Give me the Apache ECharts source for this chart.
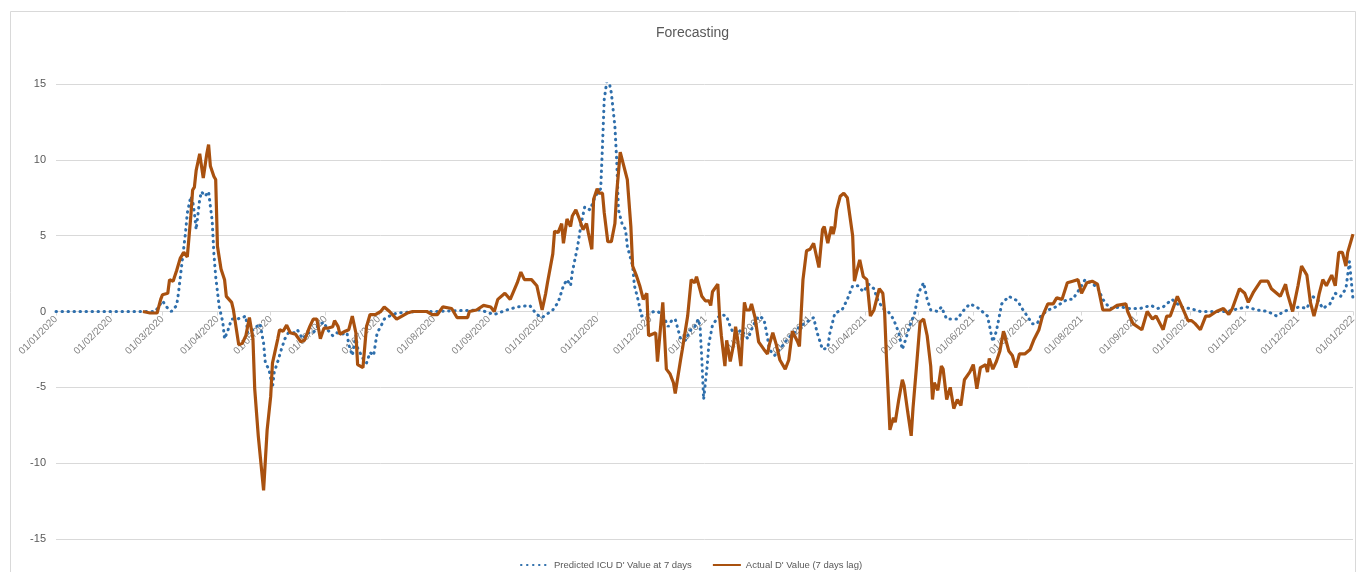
<!DOCTYPE html>
<html>
<head>
<meta charset="utf-8">
<title>Forecasting</title>
<script src="https://cdn.jsdelivr.net/npm/echarts@6/dist/echarts.min.js"></script>
<style>
  html, body { margin: 0; padding: 0; background: #fff; }
  #chart { width: 1364px; height: 572px; }
</style>
</head>
<body>
<div id="chart"></div>
<script>
// values
const predDates = [
  "2020-01-01", "2020-02-21", "2020-02-26", "2020-03-01", "2020-03-04", "2020-03-06", "2020-03-09", "2020-03-10",
  "2020-03-12", "2020-03-14", "2020-03-15", "2020-03-17", "2020-03-18", "2020-03-19", "2020-03-20", "2020-03-22",
  "2020-03-23", "2020-03-25", "2020-03-27", "2020-03-28", "2020-03-29", "2020-03-30", "2020-03-31", "2020-04-02",
  "2020-04-04", "2020-04-05", "2020-04-07", "2020-04-09", "2020-04-12", "2020-04-15", "2020-04-17", "2020-04-18",
  "2020-04-21", "2020-04-23", "2020-04-25", "2020-04-27", "2020-04-28", "2020-04-30", "2020-05-02", "2020-05-03",
  "2020-05-05", "2020-05-07", "2020-05-09", "2020-05-11", "2020-05-14", "2020-05-16", "2020-05-19", "2020-05-22",
  "2020-05-25", "2020-05-28", "2020-05-31", "2020-06-02", "2020-06-05", "2020-06-07", "2020-06-10", "2020-06-13",
  "2020-06-14", "2020-06-16", "2020-06-18", "2020-06-19", "2020-06-22", "2020-06-24", "2020-06-26", "2020-06-28",
  "2020-06-30", "2020-07-02", "2020-07-04", "2020-07-07", "2020-07-11", "2020-07-23", "2020-08-01", "2020-08-27",
  "2020-09-04", "2020-09-11", "2020-09-17", "2020-09-24", "2020-09-28", "2020-10-01", "2020-10-07", "2020-10-10",
  "2020-10-13", "2020-10-15", "2020-10-17", "2020-10-18", "2020-10-21", "2020-10-23", "2020-10-25", "2020-10-28",
  "2020-10-31", "2020-11-03", "2020-11-04", "2020-11-05", "2020-11-07", "2020-11-09", "2020-11-11", "2020-11-12",
  "2020-11-13", "2020-11-15", "2020-11-17", "2020-11-18", "2020-11-21", "2020-11-22", "2020-11-24", "2020-11-26",
  "2020-11-29", "2020-12-03", "2020-12-05", "2020-12-08", "2020-12-11", "2020-12-13", "2020-12-15", "2020-12-18",
  "2020-12-21", "2020-12-23", "2020-12-26", "2020-12-28", "2020-12-29", "2020-12-30", "2020-12-31", "2021-01-02",
  "2021-01-03", "2021-01-05", "2021-01-08", "2021-01-10", "2021-01-13", "2021-01-14", "2021-01-17", "2021-01-19",
  "2021-01-21", "2021-01-22", "2021-01-25", "2021-01-28", "2021-01-31", "2021-02-03", "2021-02-05", "2021-02-06",
  "2021-02-09", "2021-02-12", "2021-02-15", "2021-02-18", "2021-02-21", "2021-02-23", "2021-02-27", "2021-03-03",
  "2021-03-05", "2021-03-08", "2021-03-11", "2021-03-12", "2021-03-15", "2021-03-19", "2021-03-22", "2021-03-25",
  "2021-03-28", "2021-03-31", "2021-04-03", "2021-04-06", "2021-04-08", "2021-04-11", "2021-04-14", "2021-04-17",
  "2021-04-20", "2021-04-22", "2021-04-24", "2021-04-26", "2021-04-29", "2021-05-01", "2021-05-04", "2021-05-06",
  "2021-05-08", "2021-05-12", "2021-05-14", "2021-05-17", "2021-05-21", "2021-05-23", "2021-05-26", "2021-05-30",
  "2021-06-03", "2021-06-06", "2021-06-09", "2021-06-12", "2021-06-14", "2021-06-17", "2021-06-21", "2021-06-26",
  "2021-06-29", "2021-07-02", "2021-07-04", "2021-07-07", "2021-07-09", "2021-07-13", "2021-07-16", "2021-07-24",
  "2021-07-27", "2021-07-31", "2021-08-03", "2021-08-06", "2021-08-10", "2021-08-13", "2021-08-17", "2021-08-23",
  "2021-08-28", "2021-09-03", "2021-09-09", "2021-09-13", "2021-09-16", "2021-09-21", "2021-09-26", "2021-10-01",
  "2021-10-07", "2021-10-14", "2021-10-22", "2021-10-29", "2021-11-02", "2021-11-08", "2021-11-14", "2021-11-19",
  "2021-11-23", "2021-11-28", "2021-12-02", "2021-12-06", "2021-12-09", "2021-12-12", "2021-12-15", "2021-12-19",
  "2021-12-22", "2021-12-25", "2021-12-28", "2021-12-30", "2022-01-01"
];
const predValues = [
  0, 0, 0, 0.7, 0.2, 0, 0.4, 1.2,
  3.2, 5.2, 6.5, 7.6, 7.3, 6.5, 5.4, 7.4,
  7.9, 7.6, 7.9, 7.8, 6.0, 3.8, 2.3, 0.3,
  -0.7, -1.8, -1.2, -0.5, -0.5, -0.4, -0.3, -1.4,
  -1.2, -1.0, -0.8, -2.1, -3.4, -3.8, -5.0, -4.0,
  -3.3, -2.5, -1.8, -1.4, -1.4, -1.2, -1.8, -1.4,
  -1.4, -0.9, -0.7, -1.2, -1.6, -1.4, -1.5, -1.4,
  -2.2, -2.9, -1.6, -2.4, -3.1, -3.4, -2.7, -2.9,
  -1.4, -1.0, -0.5, -0.3, -0.1, 0, 0, 0.1,
  -0.2, 0.1, 0.3, 0.4, -0.2, -0.4, 0.1, 0.6,
  1.7, 2.1, 1.7, 2.6, 4.3, 5.8, 6.9, 6.7,
  7.6, 8.1, 10.9, 14.0, 15.6, 14.4, 12.2, 10.0,
  6.7, 5.8, 5.4, 4.3, 3.0, 1.7, 0.8, -0.3,
  -0.2, 0, 0, -0.2, -1.0, -0.6, -0.5, -1.8,
  -1.9, -1.3, -1.0, -0.5, -1.0, -3.2, -5.8, -3.6,
  -2.1, -0.9, -0.4, -0.2, -0.3, -0.7, -1.5, -1.5,
  -1.2, -1.3, -1.8, -0.9, -0.3, -0.5, -1.7, -2.5,
  -2.9, -2.5, -2.0, -1.6, -1.3, -1.0, -0.7, -0.4,
  -1.4, -2.5, -2.4, -1.5, -0.1, 0.1, 0.8, 1.7,
  1.7, 1.3, 1.8, 1.5, 0.8, 0.2, 0, -0.5,
  -1.4, -2.5, -1.8, -1.0, -0.1, 1.2, 1.9, 0.8,
  0.1, 0, 0.3, -0.5, -0.5, -0.5, 0, 0.5,
  0.3, 0, -0.3, -2.0, -1.3, 0.5, 1.0, 0.7,
  0.1, -0.4, -0.8, -0.8, -0.3, 0.1, 0.2, 0.8,
  0.8, 1.5, 2.1, 1.9, 1.6, 0.8, 0.2, 0.3,
  0.2, 0.2, 0.4, 0.2, 0.3, 0.8, 0.3, 0.2,
  0, 0, 0, 0.2, 0.3, 0.1, 0, -0.3,
  0, 0.2, 0.3, 0.2, 1.0, 0.8, 0.2, 0.5,
  1.2, 1.0, 1.5, 3.3, 0.8
];

const actualDates = [
  "2020-02-19", "2020-02-23", "2020-02-27", "2020-02-29", "2020-03-01", "2020-03-04", "2020-03-05", "2020-03-07",
  "2020-03-09", "2020-03-11", "2020-03-13", "2020-03-15", "2020-03-17", "2020-03-18", "2020-03-19", "2020-03-20",
  "2020-03-22", "2020-03-23", "2020-03-24", "2020-03-26", "2020-03-27", "2020-03-28", "2020-03-30", "2020-03-31",
  "2020-04-01", "2020-04-03", "2020-04-05", "2020-04-06", "2020-04-09", "2020-04-10", "2020-04-13", "2020-04-15",
  "2020-04-17", "2020-04-19", "2020-04-21", "2020-04-22", "2020-04-24", "2020-04-27", "2020-04-29", "2020-05-01",
  "2020-05-02", "2020-05-05", "2020-05-06", "2020-05-08", "2020-05-10", "2020-05-12", "2020-05-15", "2020-05-18",
  "2020-05-20", "2020-05-23", "2020-05-25", "2020-05-27", "2020-05-29", "2020-05-31", "2020-06-02", "2020-06-05",
  "2020-06-06", "2020-06-08", "2020-06-09", "2020-06-12", "2020-06-14", "2020-06-16", "2020-06-18", "2020-06-19",
  "2020-06-22", "2020-06-24", "2020-06-26", "2020-06-29", "2020-07-02", "2020-07-04", "2020-07-07", "2020-07-11",
  "2020-07-17", "2020-07-20", "2020-07-28", "2020-07-31", "2020-08-03", "2020-08-06", "2020-08-11", "2020-08-14",
  "2020-08-20", "2020-08-21", "2020-08-25", "2020-08-29", "2020-09-02", "2020-09-04", "2020-09-06", "2020-09-10",
  "2020-09-13", "2020-09-17", "2020-09-19", "2020-09-21", "2020-09-25", "2020-09-28", "2020-10-01", "2020-10-03",
  "2020-10-04", "2020-10-07", "2020-10-08", "2020-10-10", "2020-10-12", "2020-10-13", "2020-10-15", "2020-10-17",
  "2020-10-18", "2020-10-20", "2020-10-22", "2020-10-24", "2020-10-26", "2020-10-27", "2020-10-29", "2020-10-30",
  "2020-11-01", "2020-11-02", "2020-11-04", "2020-11-05", "2020-11-07", "2020-11-09", "2020-11-11", "2020-11-12",
  "2020-11-14", "2020-11-16", "2020-11-18", "2020-11-20", "2020-11-21", "2020-11-23", "2020-11-25", "2020-11-27",
  "2020-11-29", "2020-11-30", "2020-12-02", "2020-12-04", "2020-12-05", "2020-12-08", "2020-12-10", "2020-12-12",
  "2020-12-14", "2020-12-15", "2020-12-18", "2020-12-19", "2020-12-22", "2020-12-24", "2020-12-26", "2020-12-27",
  "2020-12-30", "2021-01-01", "2021-01-03", "2021-01-04", "2021-01-05", "2021-01-08", "2021-01-09", "2021-01-10",
  "2021-01-12", "2021-01-13", "2021-01-15", "2021-01-17", "2021-01-18", "2021-01-19", "2021-01-21", "2021-01-23",
  "2021-01-24", "2021-01-26", "2021-01-27", "2021-01-29", "2021-01-31", "2021-02-03", "2021-02-05", "2021-02-06",
  "2021-02-08", "2021-02-10", "2021-02-12", "2021-02-15", "2021-02-17", "2021-02-19", "2021-02-22", "2021-02-23",
  "2021-02-25", "2021-02-27", "2021-03-01", "2021-03-03", "2021-03-04", "2021-03-06", "2021-03-08", "2021-03-09",
  "2021-03-11", "2021-03-13", "2021-03-14", "2021-03-15", "2021-03-16", "2021-03-18", "2021-03-20", "2021-03-22",
  "2021-03-25", "2021-03-26", "2021-03-27", "2021-03-29", "2021-03-31", "2021-04-02", "2021-04-03", "2021-04-04",
  "2021-04-06", "2021-04-07", "2021-04-09", "2021-04-11", "2021-04-12", "2021-04-13", "2021-04-15", "2021-04-17",
  "2021-04-18", "2021-04-20", "2021-04-22", "2021-04-23", "2021-04-25", "2021-04-27", "2021-04-28", "2021-04-30",
  "2021-05-02", "2021-05-04", "2021-05-06", "2021-05-08", "2021-05-09", "2021-05-10", "2021-05-12", "2021-05-14",
  "2021-05-15", "2021-05-17", "2021-05-19", "2021-05-21", "2021-05-23", "2021-05-25", "2021-05-27", "2021-05-30",
  "2021-06-01", "2021-06-03", "2021-06-05", "2021-06-08", "2021-06-09", "2021-06-10", "2021-06-12", "2021-06-14",
  "2021-06-16", "2021-06-18", "2021-06-21", "2021-06-23", "2021-06-25", "2021-06-27", "2021-06-30", "2021-07-03",
  "2021-07-05", "2021-07-08", "2021-07-10", "2021-07-13", "2021-07-16", "2021-07-18", "2021-07-21", "2021-07-24",
  "2021-07-27", "2021-07-30", "2021-08-01", "2021-08-04", "2021-08-07", "2021-08-10", "2021-08-13", "2021-08-17",
  "2021-08-21", "2021-08-26", "2021-08-27", "2021-08-30", "2021-09-04", "2021-09-07", "2021-09-10", "2021-09-12",
  "2021-09-16", "2021-09-18", "2021-09-20", "2021-09-24", "2021-09-27", "2021-09-30", "2021-10-02", "2021-10-04",
  "2021-10-07", "2021-10-10", "2021-10-12", "2021-10-16", "2021-10-20", "2021-10-23", "2021-10-25", "2021-10-29",
  "2021-11-01", "2021-11-03", "2021-11-06", "2021-11-10", "2021-11-14", "2021-11-16", "2021-11-19", "2021-11-21",
  "2021-11-24", "2021-11-25", "2021-11-28", "2021-12-01", "2021-12-03", "2021-12-06", "2021-12-08", "2021-12-10",
  "2021-12-12", "2021-12-13", "2021-12-15", "2021-12-17", "2021-12-20", "2021-12-22", "2021-12-24", "2021-12-26",
  "2021-12-28", "2021-12-29", "2022-01-01"
];
const actualValues = [
  0, -0.1, -0.1, 0.8, 1.1, 1.2, 2.1, 2.0,
  2.7, 3.5, 3.9, 3.6, 6.3, 8.0, 8.2, 9.3,
  10.4, 9.6, 8.8, 10.4, 11.0, 9.6, 8.9, 8.7,
  4.3, 2.8, 2.1, 1.0, 0.6, 0.1, -2.2, -2.1,
  -1.6, -0.4, -1.8, -5.1, -8.2, -11.8, -7.8, -5.6,
  -3.4, -1.8, -1.2, -1.3, -0.9, -1.4, -1.5, -2.0,
  -1.9, -1.0, -0.5, -0.5, -1.8, -1.1, -1.1, -1.0,
  -0.6, -1.0, -1.5, -1.3, -1.2, -0.3, -1.4, -3.5,
  -3.7, -1.0, -0.2, -0.2, 0, 0.3, 0, -0.5,
  -0.1, 0, 0, -0.2, -0.2, 0.3, 0.2, -0.4,
  -0.4, 0, 0.1, 0.4, 0.3, 0, 0.8, 1.2,
  0.8, 1.9, 2.6, 2.1, 2.1, 1.7, 0.1, 1.2,
  1.9, 3.8, 5.3, 5.2, 5.8, 4.5, 6.1, 5.6,
  6.3, 6.7, 6.1, 5.4, 5.8, 5.2, 4.1, 7.4,
  8.1, 7.8, 7.8, 6.5, 4.6, 4.6, 5.8, 7.8,
  10.5, 9.6, 8.7, 5.6, 3.0, 2.4, 1.7, 0.8,
  1.2, -1.6, -1.5, -1.4, -3.3, 0.6, -3.8, -4.1,
  -4.7, -5.4, -3.2, -2.5, -0.3, 2.1, 1.9, 2.3,
  1.0, 0.7, 0.7, 0.4, 1.3, 1.8, -0.3, -1.6,
  -3.6, -1.9, -3.3, -2.1, -1.0, -1.7, -3.6, 0.6,
  0.1, 0.1, 0.5, -0.4, -2.0, -2.5, -2.8, -2.2,
  -1.4, -2.2, -3.2, -3.8, -3.2, -1.3, -2.0, -2.3,
  2.1, 4.0, 4.1, 4.5, 4.5, 2.9, 5.4, 5.6,
  4.5, 5.6, 5.1, 5.6, 6.7, 7.6, 7.8, 7.5,
  5.0, 2.0, 2.5, 3.4, 2.3, 2.1, 2.1, -0.3,
  0.1, 0, 1.5, 1.2, 0, -2.9, -7.8, -7.0,
  -7.3, -5.8, -4.5, -4.9, -6.6, -8.2, -6.4, -3.6,
  -0.7, -0.5, -1.6, -3.6, -5.8, -4.7, -5.2, -3.6,
  -3.8, -5.8, -5.0, -6.4, -5.8, -6.2, -4.5, -4.0,
  -3.5, -5.1, -3.7, -3.5, -4.0, -3.1, -3.8, -3.3,
  -2.6, -1.3, -2.6, -2.9, -3.7, -2.8, -2.8, -2.5,
  -1.9, -1.2, -0.3, 0.5, 0.5, 0.9, 0.8, 1.9,
  2.0, 2.1, 1.2, 1.9, 2.0, 1.8, 0.1, 0.1,
  0.4, 0.5, 0, -0.8, -1.2, 0, -0.5, -0.3,
  -1.2, -0.3, -0.3, 1.0, 0.2, -0.6, -0.6, -0.8,
  -1.2, -0.3, -0.3, 0, 0.2, -0.2, 0.2, 1.5,
  1.2, 0.6, 1.3, 2.0, 2.0, 1.5, 1.2, 1.0,
  1.8, 1.2, 0, 1.7, 3.0, 2.4, 0.6, -0.3,
  0.6, 1.2, 2.1, 1.7, 2.4, 1.7, 3.9, 3.9,
  3.0, 3.9, 5.1
];

const seriesNames = ["Predicted ICU D' Value at 7 days", "Actual D' Value (7 days lag)"];

const DAY = 24 * 3600 * 1000;
const zip = (dates, vals) => dates.map((d, i) => [d, vals[i]]);

// plot box, px
const gridTop = 84;
const gridBottom = 33;
const plotH = 572 - gridTop - gridBottom;

const chart = echarts.init(document.getElementById("chart"));
chart.setOption({
  animation: false,
  backgroundColor: "#fff",
  textStyle: { fontFamily: "Liberation Sans, Arial, sans-serif" },
  title: {
    text: "Forecasting",
    left: 651,
    top: 21,
    textStyle: { fontSize: 14, fontWeight: "normal", color: "#595959" },
  },
  graphic: [
    {
      type: "rect",
      shape: { x: 10.5, y: 11.5, width: 1345, height: 570 },
      style: { fill: "none", stroke: "#d9d9d9", lineWidth: 1 },
      silent: true,
    },
  ],
  legend: {
    left: 515,
    top: 555,
    itemWidth: 28,
    itemHeight: 8,
    itemGap: 20,
    itemStyle: { opacity: 0 },
    textStyle: { fontSize: 9.5, color: "#595959" },
    data: seriesNames,
  },
  grid: { left: 56, right: 11, top: gridTop, bottom: gridBottom, outerBoundsMode: "none" },
  xAxis: {
    type: "time",
    min: "2020-01-01",
    max: "2022-01-01",
    splitNumber: 24,
    minInterval: 28 * DAY,
    maxInterval: 31 * DAY,
    // axis sits on the zero line, labels go with it
    offset: -plotH / 2,
    axisLine: { onZero: false, lineStyle: { color: "#d9d9d9", width: 1 } },
    axisTick: { show: true, length: 4, lineStyle: { color: "#d9d9d9" } },
    splitLine: { show: false },
    axisLabel: {
      rotate: 45,
      margin: 6,
      fontSize: 10,
      color: "#7f7f7f",
      formatter: "{dd}/{MM}/{yyyy}",
      showMinLabel: true,
      showMaxLabel: true,
      hideOverlap: false,
    },
  },
  yAxis: {
    type: "value",
    min: -15,
    max: 15,
    interval: 5,
    axisLine: { show: false },
    axisTick: { show: false },
    axisLabel: { fontSize: 11, color: "#595959", margin: 10 },
    splitLine: { lineStyle: { color: "#d9d9d9", width: 1 } },
  },
  series: [
    {
      name: seriesNames[0],
      type: "line",
      symbol: "none",
      data: zip(predDates, predValues),
      itemStyle: { color: "#2f6fac" },
      lineStyle: { color: "#2f6fac", width: 3, type: [0.5, 5.5], cap: "round" },
      z: 2,
    },
    {
      name: seriesNames[1],
      type: "line",
      symbol: "none",
      data: zip(actualDates, actualValues),
      itemStyle: { color: "#a9510f" },
      lineStyle: { color: "#a9510f", width: 3.2 },
      z: 3,
    },
  ],
});
</script>
</body>
</html>
